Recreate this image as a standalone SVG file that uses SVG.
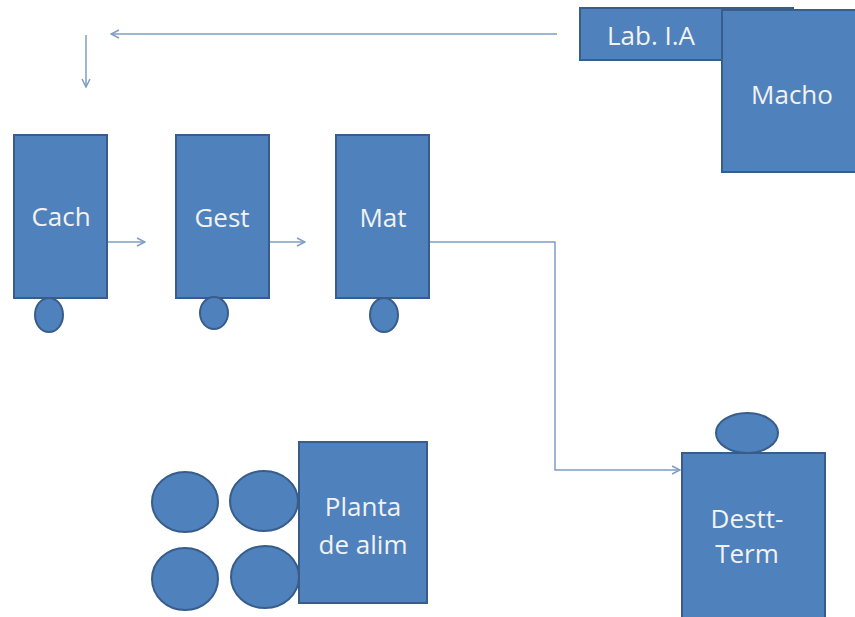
<svg xmlns="http://www.w3.org/2000/svg" width="855" height="617" viewBox="0 0 855 617">
<defs>
<style>
.box{fill:#4F81BD;stroke:#385D8A;stroke-width:2}
.lbl{font-family:"Open Sans","Liberation Sans",sans-serif;font-size:26px;fill:#F2F2F2;text-anchor:middle}
.con{fill:none;stroke:#7E9CC6;stroke-width:1.5}
</style>
<marker id="arr" viewBox="0 0 10 10" refX="9" refY="5" markerWidth="10" markerHeight="10" markerUnits="userSpaceOnUse" orient="auto">
<path d="M1,1 L9,5 L1,9" fill="none" stroke="#7E9CC6" stroke-width="1.5"/>
</marker>
</defs>
<rect width="855" height="617" fill="#FFFFFF"/>
<g id="connectors">
<line class="con" x1="557" y1="34" x2="111" y2="34" marker-end="url(#arr)"/>
<line class="con" x1="86" y1="35" x2="86" y2="87" marker-end="url(#arr)"/>
<line class="con" x1="107" y1="242" x2="145" y2="242" marker-end="url(#arr)"/>
<line class="con" x1="269" y1="242" x2="305" y2="242" marker-end="url(#arr)"/>
<polyline class="con" points="429,242 555,242 555,470 680,470" marker-end="url(#arr)"/>
</g>
<g id="lab">
<rect class="box" x="580" y="8" width="213" height="52"/>
<text class="lbl" x="651" y="45">Lab. I.A</text>
</g>
<g id="macho">
<rect class="box" x="722" y="10" width="140" height="162"/>
<text class="lbl" x="792" y="104">Macho</text>
</g>
<g id="cach">
<rect class="box" x="14" y="135" width="93" height="163"/>
<ellipse class="box" cx="49" cy="315" rx="14" ry="17"/>
<text class="lbl" x="61" y="226">Cach</text>
</g>
<g id="gest">
<rect class="box" x="176" y="135" width="93" height="163"/>
<ellipse class="box" cx="214" cy="313" rx="14" ry="16"/>
<text class="lbl" x="222" y="227">Gest</text>
</g>
<g id="mat">
<rect class="box" x="336" y="135" width="93" height="163"/>
<ellipse class="box" cx="384" cy="315" rx="14" ry="17"/>
<text class="lbl" x="383" y="227">Mat</text>
</g>
<g id="planta">
<ellipse class="box" cx="185" cy="502" rx="33" ry="30"/>
<ellipse class="box" cx="264" cy="501" rx="34" ry="30"/>
<ellipse class="box" cx="185" cy="579" rx="33" ry="31"/>
<ellipse class="box" cx="265" cy="577" rx="34" ry="31"/>
<rect class="box" x="299" y="442" width="128" height="161"/>
<text class="lbl" x="363" y="516">Planta</text>
<text class="lbl" x="363" y="554">de alim</text>
</g>
<g id="destt">
<ellipse class="box" cx="747" cy="433" rx="31" ry="20"/>
<rect class="box" x="682" y="453" width="143" height="170"/>
<text class="lbl" x="747" y="528">Destt-</text>
<text class="lbl" x="747" y="563">Term</text>
</g>
</svg>
